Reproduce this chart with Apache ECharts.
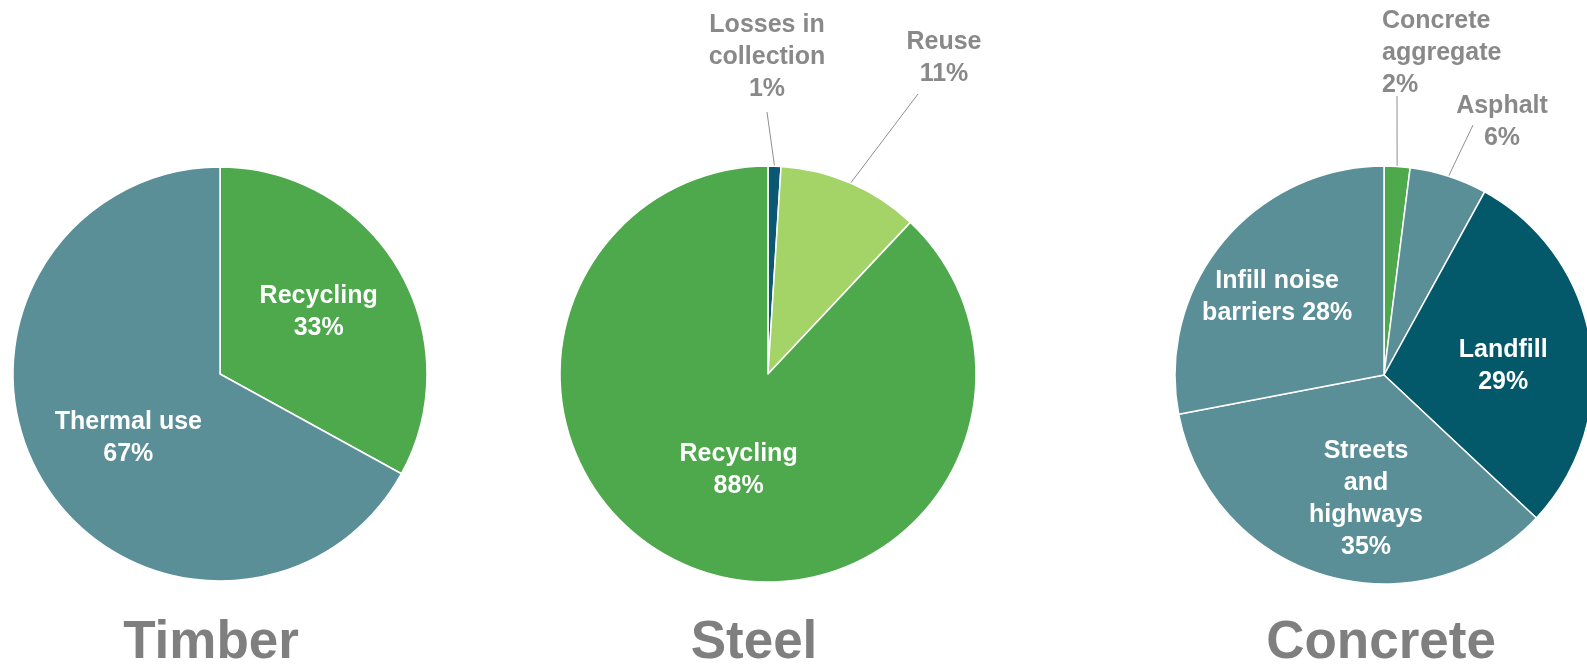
<!DOCTYPE html>
<html>
<head>
<meta charset="utf-8">
<script src="https://cdn.jsdelivr.net/npm/echarts@6/dist/echarts.min.js"></script>
<style>
html,body{margin:0;padding:0;background:#fff;}
#chart{width:1587px;height:666px;}
</style>
</head>
<body>
<div id="chart"></div>
<script>
// ---- data ----
const titles = ['Timber', 'Steel', 'Concrete'];
const timberCats = ['Recycling', 'Thermal use'];
const timberVals = [33, 67];
const steelCats = ['Losses in\ncollection', 'Reuse', 'Recycling'];
const steelVals = [1, 11, 88];
const concreteCats = ['Concrete\naggregate', 'Asphalt', 'Landfill', 'Streets\nand\nhighways', 'Infill noise\nbarriers'];
const concreteVals = [2, 6, 29, 35, 28];

// ---- style ----
const FONT = "'Liberation Sans', Arial, sans-serif";
const TEAL = '#5a8f98', GREEN = '#4ea84c', LIGHT = '#a4d468', DARK = '#03586a', DARKB = '#0b5872';
const GREY = '#898989';
const timberColors = [GREEN, TEAL];
const steelColors = [DARKB, LIGHT, GREEN];
const concreteColors = [GREEN, TEAL, DARK, TEAL, TEAL];
const inlineLabel = { 'Infill noise\nbarriers': true };
const outsideSet = { 'Losses in\ncollection': true, 'Reuse': true, 'Concrete\naggregate': true, 'Asphalt': true };

// label placement (layout only)
const layouts = {
  0: { 0: { dx: 7, dy: -8 }, 1: { dx: 0, dy: 10 } },
  1: {
    0: { x: 767, y: 105, align: 'center', end: [767, 112] },
    1: { x: 944, y: 90, align: 'center', end: [918, 94] },
    2: { dx: 10, dy: -3 }
  },
  2: {
    0: { x: 1382, y: 101, align: 'left', end: [1397, 96] },
    1: { x: 1502, y: 154, align: 'center', end: [1473, 125] },
    2: { dx: 13, dy: 8 },
    3: { dx: 12, dy: 21 },
    4: { dx: -24, dy: -9 }
  }
};

function makeData(cats, vals, colors) {
  return cats.map((c, i) => {
    const outside = !!outsideSet[c];
    return {
      name: c,
      value: vals[i],
      itemStyle: { color: colors[i] },
      label: {
        position: outside ? 'outside' : 'inside',
        color: outside ? GREY : '#ffffff',
        formatter: inlineLabel[c] ? '{b} {c}%' : '{b}\n{c}%'
      },
      labelLine: { show: outside }
    };
  });
}

function makeSeries(idx, cats, vals, colors, center, radius) {
  return {
    type: 'pie',
    center: center,
    radius: radius,
    startAngle: 90,
    clockwise: true,
    avoidLabelOverlap: false,
    silent: true,
    itemStyle: { borderColor: '#ffffff', borderWidth: 1.5 },
    label: {
      fontFamily: FONT, fontWeight: 'bold', fontSize: 25, lineHeight: 32, align: 'center'
    },
    labelLine: { lineStyle: { color: '#8f8f8f', width: 1 }, length: 20, length2: 0, smooth: false },
    labelLayout: function (p) {
      const L = layouts[idx][p.dataIndex];
      if (!L) return {};
      if (L.x != null) {
        const pts = p.labelLinePoints;
        const res = { x: L.x, y: L.y, align: L.align, verticalAlign: 'bottom' };
        if (pts && pts.length) res.labelLinePoints = [pts[0], L.end];
        return res;
      }
      return { dx: L.dx, dy: L.dy };
    },
    data: makeData(cats, vals, colors)
  };
}

const chart = echarts.init(document.getElementById('chart'), null, { renderer: 'canvas' });
const titleCenters = [206, 749, 1376];
chart.setOption({
  backgroundColor: '#ffffff',
  animation: false,
  title: titles.map((t, i) => ({
    text: t,
    left: titleCenters[i],
    top: 612,
    textAlign: 'center',
    textStyle: { fontFamily: FONT, fontWeight: 'bold', fontSize: 53, color: '#7f7f7f' }
  })),
  series: [
    makeSeries(0, timberCats, timberVals, timberColors, [220, 374], 207),
    makeSeries(1, steelCats, steelVals, steelColors, [768, 374], 208),
    makeSeries(2, concreteCats, concreteVals, concreteColors, [1384, 375], 209)
  ]
});
</script>
</body>
</html>
